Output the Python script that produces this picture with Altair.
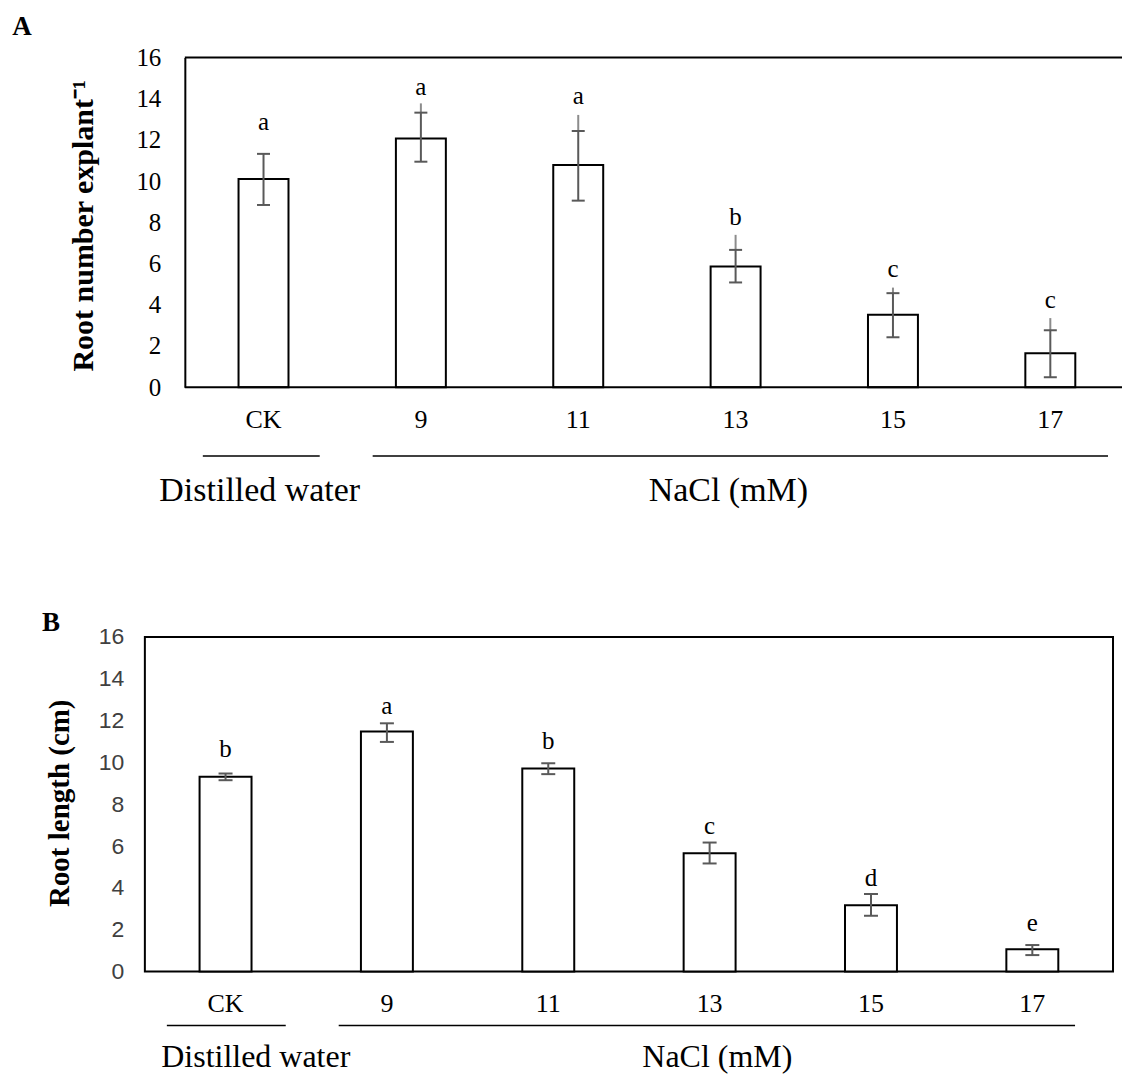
import altair as alt
import pandas as pd

SERIF = "Liberation Serif"
SANS = "Liberation Sans"

# ---------------- data ----------------
categories = ["CK", "9", "11", "13", "15", "17"]
y_ticks = [0, 2, 4, 6, 8, 10, 12, 14, 16]
group_labels = ["Distilled water", "NaCl (mM)"]

# Panel A: root number per explant
a_mean = [10.10, 12.07, 10.78, 5.85, 3.51, 1.65]
a_err_low = [8.84, 10.94, 9.05, 5.08, 2.42, 0.48]
a_err_cap = [11.32, 13.32, 12.43, 6.66, 4.56, 2.76]
a_err_top = [11.32, 13.77, 13.21, 7.39, 4.83, 3.35]
a_letters = ["a", "a", "a", "b", "c", "c"]
a_letter_pos = [12.88, 14.58, 14.13, 8.28, 5.72, 4.25]

# Panel B: root length (cm)
b_mean = [9.31, 11.48, 9.71, 5.66, 3.17, 1.07]
b_err_low = [9.15, 10.98, 9.44, 5.17, 2.67, 0.79]
b_err_high = [9.47, 11.87, 9.96, 6.17, 3.71, 1.27]
b_letters = ["b", "a", "b", "c", "d", "e"]
b_letter_pos = [10.63, 12.70, 11.03, 6.94, 4.48, 2.33]

dfa = pd.DataFrame({"cat": categories, "mean": a_mean, "low": a_err_low,
                    "cap": a_err_cap, "top": a_err_top,
                    "letter": a_letters, "lpos": a_letter_pos})
dfb = pd.DataFrame({"cat": categories, "mean": b_mean, "low": b_err_low,
                    "high": b_err_high, "letter": b_letters, "lpos": b_letter_pos})
one = pd.DataFrame({"k": [0]})

ERR = "#595959"
ERR_LIGHT = "#8c8c8c"

# ---------------- panel A ----------------
A_W, A_H = 980, 330

def xa():
    return alt.X("cat:N", sort=categories,
                 scale=alt.Scale(domain=categories, range=[40, 985],
                                 paddingInner=0, paddingOuter=0),
                 axis=alt.Axis(title=None, labelFont=SERIF, labelFontSize=26,
                               labelColor="black", labelAngle=0, labelPadding=32,
                               labelBaseline="middle", ticks=False, tickSize=0,
                               domain=False, grid=False))

def ya(field):
    return alt.Y(field, scale=alt.Scale(domain=[0, 16], nice=False),
                 axis=alt.Axis(values=y_ticks, title="Root number explant\u207b\u00b9",
                               titleFont=SERIF, titleFontSize=30, titleFontWeight="bold",
                               titleColor="black", titleX=-101, titleY=168,
                               titleAngle=270, titleBaseline="middle", titleAlign="center",
                               labelFont=SERIF, labelFontSize=25, labelColor="black",
                               labelPadding=24, ticks=False, tickSize=0,
                               domain=True, domainColor="black", domainWidth=2,
                               grid=False, offset=-40))

baseA = alt.Chart(dfa)
barsA = baseA.mark_bar(size=50, fill="white", stroke="black", strokeWidth=2).encode(
    x=xa(), y=ya("mean:Q"))
errA1 = baseA.mark_rule(color=ERR, strokeWidth=2).encode(
    x=xa(), y=ya("low:Q"), y2=alt.Y2("cap"))
errA2 = baseA.mark_rule(color=ERR_LIGHT, strokeWidth=2).encode(
    x=xa(), y=ya("cap:Q"), y2=alt.Y2("top"))
capA_low = baseA.mark_rule(color=ERR, strokeWidth=2, xOffset=-6.5, x2Offset=6.5).encode(
    x=xa(), x2=alt.X2("cat"), y=ya("low:Q"))
capA_high = baseA.mark_rule(color=ERR, strokeWidth=2, xOffset=-6.5, x2Offset=6.5).encode(
    x=xa(), x2=alt.X2("cat"), y=ya("cap:Q"))
lettersA = baseA.mark_text(font=SERIF, fontSize=25, color="black", baseline="middle").encode(
    x=xa(), y=ya("lpos:Q"), text="letter:N")

frameA_top = alt.Chart(one).mark_rule(color="black", strokeWidth=2).encode(
    x=alt.value(40), x2=alt.value(A_W - 2), y=alt.value(0))
frameA_bot = alt.Chart(one).mark_rule(color="black", strokeWidth=2).encode(
    x=alt.value(40), x2=alt.value(A_W - 2), y=alt.value(A_H))
grpA1 = alt.Chart(one).mark_rule(color="black", strokeWidth=1.5).encode(
    x=alt.value(58), x2=alt.value(175), y=alt.value(399))
grpA2 = alt.Chart(one).mark_rule(color="black", strokeWidth=1.5).encode(
    x=alt.value(228), x2=alt.value(964), y=alt.value(399))
grpA_t1 = alt.Chart(one).mark_text(font=SERIF, fontSize=34, color="black", baseline="middle").encode(
    x=alt.value(115), y=alt.value(434), text=alt.value(group_labels[0]))
grpA_t2 = alt.Chart(one).mark_text(font=SERIF, fontSize=34, color="black", baseline="middle").encode(
    x=alt.value(584), y=alt.value(434), text=alt.value(group_labels[1]))
tagA = alt.Chart(one).mark_text(font=SERIF, fontSize=27, fontWeight="bold", color="black",
                                baseline="middle").encode(
    x=alt.value(-123), y=alt.value(-30), text=alt.value("A"))
padA1 = alt.Chart(one).mark_rule(color="white", strokeWidth=1).encode(
    x=alt.value(-143.5), x2=alt.value(-140), y=alt.value(-55.5))
padA2 = alt.Chart(one).mark_rule(color="white", strokeWidth=1).encode(
    x=alt.value(-143.5), x2=alt.value(-140), y=alt.value(544))

panelA = alt.layer(barsA, errA1, errA2, capA_low, capA_high, lettersA,
                   frameA_top, frameA_bot, grpA1, grpA2, grpA_t1, grpA_t2,
                   tagA, padA1, padA2).properties(
    width=A_W, height=A_H,
    view=alt.ViewBackground(stroke="transparent"))

# ---------------- panel B ----------------
B_W, B_H = 969, 335

def xb():
    return alt.X("cat:N", sort=categories,
                 scale=alt.Scale(domain=categories, paddingInner=0, paddingOuter=0),
                 axis=alt.Axis(title=None, labelFont=SERIF, labelFontSize=26,
                               labelColor="black", labelAngle=0, labelPadding=32,
                               labelBaseline="middle", ticks=False, tickSize=0,
                               domain=False, grid=False))

def yb(field):
    return alt.Y(field, scale=alt.Scale(domain=[0, 16], nice=False),
                 axis=alt.Axis(values=y_ticks, title="Root length (cm)",
                               titleFont=SERIF, titleFontSize=29, titleFontWeight="bold",
                               titleColor="black", titleX=-85, titleY=166,
                               titleAngle=270, titleBaseline="middle", titleAlign="center",
                               labelFont=SANS, labelFontSize=23, labelColor="#404040",
                               labelPadding=21, ticks=False, tickSize=0,
                               domain=False, grid=False))

baseB = alt.Chart(dfb)
barsB = baseB.mark_bar(size=52, fill="white", stroke="black", strokeWidth=2).encode(
    x=xb(), y=yb("mean:Q"))
errB = baseB.mark_rule(color=ERR, strokeWidth=2).encode(
    x=xb(), y=yb("low:Q"), y2=alt.Y2("high"))
capB_low = baseB.mark_rule(color=ERR, strokeWidth=2, xOffset=-7, x2Offset=7).encode(
    x=xb(), x2=alt.X2("cat"), y=yb("low:Q"))
capB_high = baseB.mark_rule(color=ERR, strokeWidth=2, xOffset=-7, x2Offset=7).encode(
    x=xb(), x2=alt.X2("cat"), y=yb("high:Q"))
lettersB = baseB.mark_text(font=SERIF, fontSize=25, color="black", baseline="middle").encode(
    x=xb(), y=yb("lpos:Q"), text="letter:N")

grpB1 = alt.Chart(one).mark_rule(color="black", strokeWidth=1.5).encode(
    x=alt.value(22), x2=alt.value(141), y=alt.value(389))
grpB2 = alt.Chart(one).mark_rule(color="black", strokeWidth=1.5).encode(
    x=alt.value(194), x2=alt.value(931), y=alt.value(389))
grpB_t1 = alt.Chart(one).mark_text(font=SERIF, fontSize=32, color="black", baseline="middle").encode(
    x=alt.value(111), y=alt.value(420), text=alt.value(group_labels[0]))
grpB_t2 = alt.Chart(one).mark_text(font=SERIF, fontSize=32, color="black", baseline="middle").encode(
    x=alt.value(573), y=alt.value(420), text=alt.value(group_labels[1]))
tagB = alt.Chart(one).mark_text(font=SERIF, fontSize=27, fontWeight="bold", color="black",
                                baseline="middle").encode(
    x=alt.value(-94), y=alt.value(-14), text=alt.value("B"))
padB1 = alt.Chart(one).mark_rule(color="white", strokeWidth=1).encode(
    x=alt.value(-143.5), x2=alt.value(-140), y=alt.value(-33))

panelB = alt.layer(barsB, errB, capB_low, capB_high, lettersB,
                   grpB1, grpB2, grpB_t1, grpB_t2, tagB, padB1).properties(
    width=B_W, height=B_H,
    view=alt.ViewBackground(stroke="black", strokeWidth=2))

chart = alt.vconcat(panelA, panelB, spacing=0).properties(
    padding=0, background="white")

chart.save("out.html", embed_options={"renderer": "svg", "actions": False})
